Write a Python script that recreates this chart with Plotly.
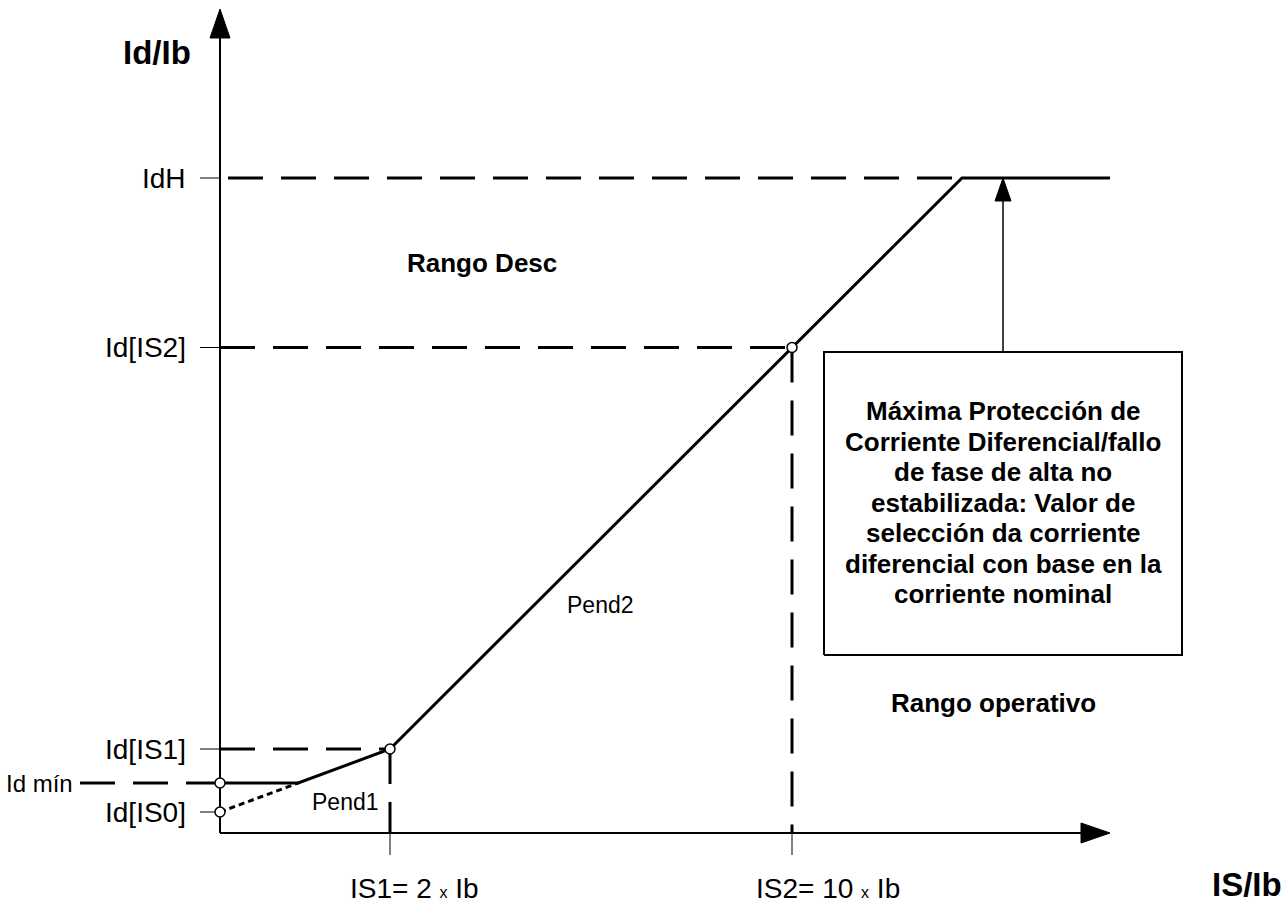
import plotly.graph_objects as go

# ---- diagram values (schematic units: origin at the axes corner) ----
# characteristic levels (y) and breakpoints (x)
IdH = 65.5
Id_IS2 = 48.55
Id_IS1 = 8.4
Id_min = 5.0
Id_IS0 = 2.1
IS1 = 17.0
IS2 = 57.2
x_knee = 74.2
x_end = 89.0
y_top = 82.4

# characteristic curve (Pend1 -> Pend2 -> IdH)
slope1 = (Id_IS1 - Id_IS0) / IS1
x_min_cross = (Id_min - Id_IS0) / slope1
curve_x = [0, x_min_cross, IS1, IS2, x_knee, x_end]
curve_y = [Id_min, Id_min, Id_IS1, Id_IS2, IdH, IdH]

tick_levels = [IdH, Id_IS2, Id_IS1, Id_IS0]
tick_labels = ["IdH", "Id[IS2]", "Id[IS1]", "Id[IS0]"]

box_lines = [
    "Máxima Protección de",
    "Corriente Diferencial/fallo",
    "de fase de alta no",
    "estabilizada: Valor de",
    "selección da corriente",
    "diferencial con base en la",
    "corriente nominal",
]

FONT = "Liberation Sans, Arial, sans-serif"
BLACK = "#000000"
DASH = "35px,18px"

fig = go.Figure()


def line(xs, ys, width=3, dash="solid"):
    fig.add_trace(go.Scatter(x=xs, y=ys, mode="lines",
                             line=dict(color=BLACK, width=width, dash=dash),
                             hoverinfo="skip", showlegend=False))


def tri(xs, ys):
    fig.add_trace(go.Scatter(x=xs, y=ys, mode="lines", fill="toself",
                             fillcolor=BLACK, line=dict(color=BLACK, width=1),
                             hoverinfo="skip", showlegend=False))


# axes with arrowheads
ax_head = 2.9
ax_half = 1.0
line([0, x_end - ax_head], [0, 0], width=2)
line([0, 0], [0, y_top - ax_head], width=2)
tri([x_end - ax_head, x_end, x_end - ax_head, x_end - ax_head],
    [ax_half, 0, -ax_half, ax_half])
tri([-ax_half, 0, ax_half, -ax_half],
    [y_top - ax_head, y_top, y_top - ax_head, y_top - ax_head])

# y ticks (thin)
for lv in tick_levels:
    line([-2.0, 0], [lv, lv], width=1)
# x ticks below axis
for xv in [IS1, IS2]:
    line([xv, xv], [0, -2.2], width=1)

# dashed reference lines
line([0.8, x_knee], [IdH, IdH], dash=DASH)
line([0, IS2], [Id_IS2, Id_IS2], dash=DASH)
line([IS2, IS2], [Id_IS2, 0], dash=DASH)
line([0, IS1], [Id_IS1, Id_IS1], dash=DASH)
line([IS1, IS1], [Id_IS1, 0], dash=DASH)
line([-14.0, 0], [Id_min, Id_min], dash=DASH)

# dotted Pend1 extension
line([0, x_min_cross], [Id_IS0, Id_min], width=3, dash="6px,4px")

# characteristic
line(curve_x, curve_y, width=3)

# box and arrow
box_x0, box_x1, box_y0, box_y1 = 60.4, 96.2, 17.8, 48.1
box_cx = (box_x0 + box_x1) / 2
line([box_x0, box_x1, box_x1, box_x0, box_x0],
     [box_y0, box_y0, box_y1, box_y1, box_y0], width=2)
arr_head = 2.3
line([box_cx, box_cx], [box_y1, IdH - arr_head], width=1.5)
tri([box_cx - 0.8, box_cx, box_cx + 0.8, box_cx - 0.8],
    [IdH - arr_head, IdH, IdH - arr_head, IdH - arr_head])

# circles
fig.add_trace(go.Scatter(x=[0, 0, IS1, IS2], y=[Id_min, Id_IS0, Id_IS1, Id_IS2],
                         mode="markers",
                         marker=dict(size=10, color="white",
                                     line=dict(color=BLACK, width=1.5)),
                         hoverinfo="skip", showlegend=False))

ann = []


def text(x, y, s, size, bold=False, xanchor="center"):
    ann.append(dict(x=x, y=y, xref="x", yref="y", text=("<b>%s</b>" % s) if bold else s,
                    showarrow=False, xanchor=xanchor, yanchor="middle",
                    font=dict(family=FONT, size=size, color=BLACK)))


for lv, lb in zip(tick_levels, tick_labels):
    text(-3.2, lv, lb, 28, xanchor="right")
text(-14.5, Id_min, "Id mín", 24, xanchor="right")

text(-6.3, 78.1, "Id/Ib", 33, bold=True)
text(102.7, -5.1, "IS/Ib", 33, bold=True)
text(19.4, -5.5, "IS1= 2 <span style='font-size:16px'>x</span> Ib", 28)
text(60.8, -5.5, "IS2= 10 <span style='font-size:16px'>x</span> Ib", 28)
text(12.55, 3.1, "Pend1", 23)
text(38.0, 22.8, "Pend2", 23)
text(26.15, 57.0, "Rango Desc", 26, bold=True)
text(77.35, 13.0, "Rango operativo", 26, bold=True)

for i, s in enumerate(box_lines):
    text(box_cx, 42.2 - 3.05 * i, s, 26, bold=True)

fig.update_layout(
    width=1286, height=913,
    margin=dict(l=0, r=0, t=0, b=0),
    paper_bgcolor="white", plot_bgcolor="white",
    xaxis=dict(range=[-22, 106.6], visible=False, fixedrange=True),
    yaxis=dict(range=[-8, 83.3], visible=False, fixedrange=True),
    annotations=ann,
    showlegend=False,
)

fig.write_html("out.html", post_script="document.body.style.margin='0';",
               config={"displayModeBar": False})
